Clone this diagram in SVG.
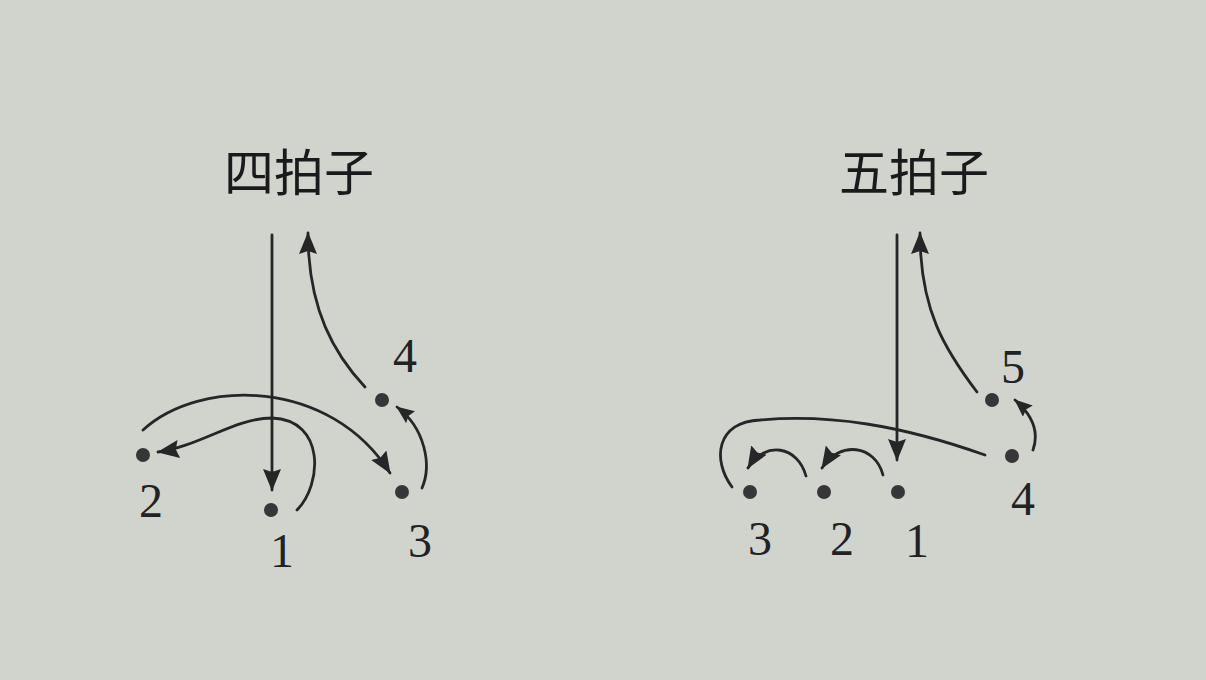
<svg xmlns="http://www.w3.org/2000/svg" width="1206" height="680" viewBox="0 0 1206 680">
<style>
.ink{fill:none;stroke:#262628;stroke-width:2.8;stroke-linecap:round}
.dot{fill:#363638}
.num{font-family:"Liberation Serif","DejaVu Serif",serif;font-size:48px;fill:#222224;text-anchor:middle}
.ttl{font-family:"Noto Sans CJK SC","Noto Sans CJK JP",sans-serif;font-size:50px;fill:#1a1a1c;text-anchor:middle}
</style>
<defs>
<marker id="ah" markerUnits="userSpaceOnUse" markerWidth="22" markerHeight="18" refX="21" refY="9" orient="auto">
<path d="M0,0 L22,9 L0,18 L3,9 Z" fill="#262628"/>
</marker>
<marker id="ahs" markerUnits="userSpaceOnUse" markerWidth="18" markerHeight="15" refX="17" refY="7.5" orient="auto">
<path d="M0,0 L18,7.5 L0,15 L2.5,7.5 Z" fill="#262628"/>
</marker>
</defs>
<rect width="1206" height="680" fill="#d1d4cd"/>
<text class="ttl" x="299" y="191">四拍子</text>
<text class="ttl" x="914" y="191">五拍子</text>
<g id="connectors">
<path class="ink" d="M272,235 L272,490" marker-end="url(#ah)"/>
<path class="ink" d="M297,510 C322,485 326,420 272,418 C235,418 200,446 158,452" marker-end="url(#ah)"/>
<path class="ink" d="M143,430 C200,378 330,378 390,473" marker-end="url(#ah)"/>
<path class="ink" d="M422,488 C432,465 425,428 397,407" marker-end="url(#ahs)"/>
<path class="ink" d="M365,387 C335,355 308,310 308,233" marker-end="url(#ah)"/>
<path class="ink" d="M897,235 L897,460" marker-end="url(#ah)"/>
<path class="ink" d="M883,475 C875,445 840,440 822,468" marker-end="url(#ah)"/>
<path class="ink" d="M806,476 C798,446 765,440 748,468" marker-end="url(#ah)"/>
<path class="ink" d="M732,487 C712,460 716,422 760,420 C830,414 900,425 985,455"/>
<path class="ink" d="M1033,450 C1040,430 1030,413 1015,400" marker-end="url(#ahs)"/>
<path class="ink" d="M977,392 C945,350 920,310 920,233" marker-end="url(#ah)"/>
</g>
<g id="four-1"><circle class="dot" cx="271" cy="510" r="7"/><text class="num" x="282" y="567">1</text></g>
<g id="four-2"><circle class="dot" cx="143" cy="455" r="7"/><text class="num" x="151" y="517">2</text></g>
<g id="four-3"><circle class="dot" cx="402" cy="492" r="7"/><text class="num" x="420" y="557">3</text></g>
<g id="four-4"><circle class="dot" cx="382" cy="400" r="7"/><text class="num" x="405" y="372">4</text></g>
<g id="five-1"><circle class="dot" cx="898" cy="492" r="7"/><text class="num" x="917" y="557">1</text></g>
<g id="five-2"><circle class="dot" cx="824" cy="492" r="7"/><text class="num" x="842" y="555">2</text></g>
<g id="five-3"><circle class="dot" cx="750" cy="492" r="7"/><text class="num" x="760" y="555">3</text></g>
<g id="five-4"><circle class="dot" cx="1012" cy="456" r="7"/><text class="num" x="1023" y="515">4</text></g>
<g id="five-5"><circle class="dot" cx="992" cy="400" r="7"/><text class="num" x="1013" y="383">5</text></g>
</svg>
